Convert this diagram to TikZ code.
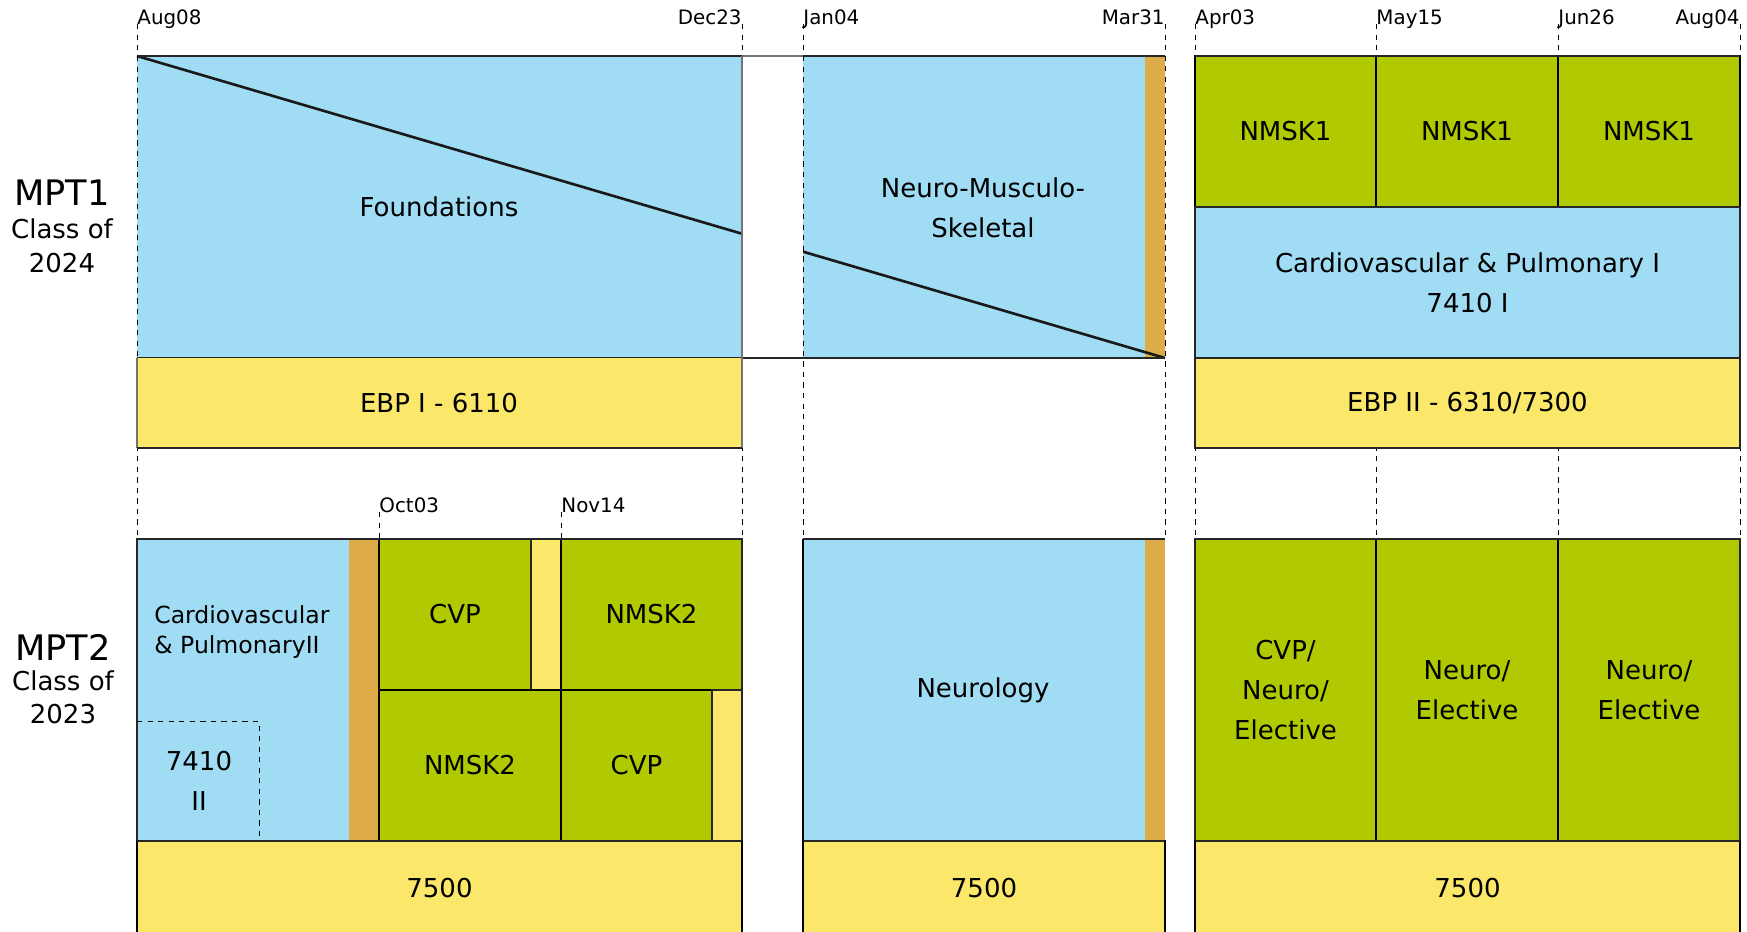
\documentclass[tikz,border=0pt]{standalone}
\usepackage{fontspec}
\setmainfont{DejaVu Sans}
\definecolor{cblue}{RGB}{160,220,244}
\definecolor{cgreen}{RGB}{177,201,0}
\definecolor{cyellow}{RGB}{251,231,106}
\definecolor{corange}{RGB}{221,172,72}

\begin{document}
\begin{tikzpicture}[x=0.02cm,y=-0.02cm,font=\fontsize{14.8}{22.8}\selectfont,
  txt/.style={align=center,inner sep=0pt},
  datelbl/.style={font=\fontsize{11.3}{13}\selectfont,inner sep=0pt},
  dateline/.style={dashed,line width=0.5pt},
  rim/.style={line width=1.3pt,draw=black!85},
  cell/.style={line width=0.7pt,draw=black}]

\clip (0,0) rectangle (1747,931);

\foreach \x/\d/\a in {137/Aug08/west,742/Dec23/east,803/Jan04/west,1165/Mar31/east,
  1195/Apr03/west,1376/May15/west,1558/Jun26/west,1740/Aug04/east}
  \draw[dateline] (\x,24) node[datelbl,anchor=base \a] (\d) {\d} -- (\x,539);

\fill[cblue] (137,56) rectangle (1165,358);
\fill[corange] (1145,56) rectangle (1165,358);
\draw[line width=1.5pt,black!90] (137,56) -- (1165,358);
\fill[white] (742,56) rectangle (803,358);
\draw[rim] (137,56) -- (742,56) (803,56) -- (1165,56) (137,358) -- (1165,358);
\draw[line width=0.6pt,black!55] (742,56) -- (803,56);
\draw[dateline] (137,56) -- (137,358) (803,56) -- (803,358);
\fill[cyellow] (137,358) rectangle (742,448);
\draw[line width=0.6pt,black!55] (742,56) -- (742,448) (137,358) -- (137,448);
\draw[rim] (137,448) -- (742,448);
\node[txt] (fnd) at (439,207) {Foundations};
\node[txt] (ebpa) at (439,403) {EBP I - 6110};
\node[txt] (nms) at (983,208) {Neuro-Musculo-\\Skeletal};

\foreach \a/\b/\n in {1195/1376/a,1376/1558/b,1558/1740/c}
  \draw[cell,fill=cgreen] (\a,56) rectangle (\b,207) node[midway,txt] (nmsk\n) {NMSK1};
\draw[rim] (1195,56) -- (1740,56);
\draw[rim,fill=cblue] (1195,207) rectangle (1740,358) node[midway,txt] (cpa) {Cardiovascular \& Pulmonary I\\7410 I};
\draw[rim,fill=cyellow] (1195,358) rectangle (1740,448) node[midway,txt] (ebpb) {EBP II - 6310/7300};

\fill[cblue] (137,539) rectangle (349,841);
\fill[corange] (349,539) rectangle (379,841);
\draw[cell,fill=cgreen] (379,539) rectangle (531,690) node[midway,txt] (cvpa) {CVP};
\draw[rim,fill=cyellow] (531,539) rectangle (561,690);
\draw[cell,fill=cgreen] (561,539) rectangle (742,690) node[midway,txt] (nmskd) {NMSK2};
\draw[cell,fill=cgreen] (379,690) rectangle (561,841) node[midway,txt] (nmske) {NMSK2};
\draw[cell,fill=cgreen] (561,690) rectangle (712,841) node[midway,txt] (cvpb) {CVP};
\draw[rim,fill=cyellow] (712,690) rectangle (742,841);
\draw[dateline] (137,721) -| (259,841);
\node[txt,align=left,anchor=west,font=\fontsize{13.4}{17}\selectfont] (cpb) at (154,632) {Cardiovascular\\\& PulmonaryII};
\node[txt] (cpc) at (199,781) {7410\\II};
\draw[rim] (137,539) rectangle (742,841);

\fill[cblue] (803,539) rectangle (1165,841);
\fill[corange] (1145,539) rectangle (1165,841);
\node[txt] (neuro) at (983,690) {Neurology};
\draw[rim] (803,539) -- (1165,539) (803,841) -- (1165,841);
\draw[cell] (803,539) -- (803,841);

\draw[cell,fill=cgreen] (1195,539) rectangle (1376,841) node[midway,txt] (ela) {CVP/\\Neuro/\\Elective};
\draw[cell,fill=cgreen] (1376,539) rectangle (1558,841) node[midway,txt] (elb) {Neuro/\\Elective};
\draw[cell,fill=cgreen] (1558,539) rectangle (1740,841) node[midway,txt] (elc) {Neuro/\\Elective};
\draw[rim] (1195,539) rectangle (1740,841);

\foreach \a/\b/\n in {137/742/a,803/1165/b,1195/1740/c}
  \draw[cell,fill=cyellow] (\a,841) rectangle (\b,935) node[midway,txt] (crs\n) {7500};
\draw[rim] (137,841) -- (742,841) (803,841) -- (1165,841) (1195,841) -- (1740,841);

\draw[dateline] (379,512) node[datelbl,anchor=base west] (Oct03) {Oct03} -- (379,690);
\draw[dateline] (561,512) node[datelbl,anchor=base west] (Nov14) {Nov14} -- (561,539);

\node[anchor=base,font=\fontsize{20}{20}\selectfont] (mpta) at (62,205) {MPT1};
\node[anchor=base] (clsa) at (62,238) {Class of};
\node[anchor=base] (yra) at (62,272) {2024};
\node[anchor=base,font=\fontsize{20}{20}\selectfont] (mptb) at (63,660) {MPT2};
\node[anchor=base] (clsb) at (63,690) {Class of};
\node[anchor=base] (yrb) at (63,723) {2023};
\end{tikzpicture}
\end{document}
